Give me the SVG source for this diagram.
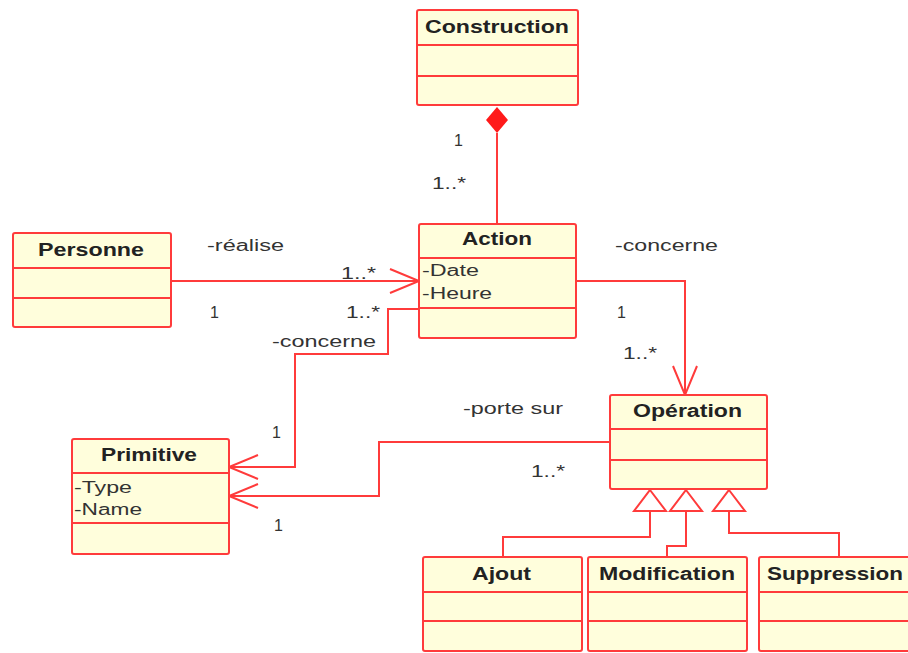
<svg xmlns="http://www.w3.org/2000/svg" width="908" height="653" viewBox="0 0 908 653">
<style>
.box{fill:#FFFEDC;stroke:#FF3B3B;stroke-width:2}
.sep{stroke:#FF3B3B;stroke-width:2}
.ttl{font-family:"Liberation Sans",Arial,sans-serif;font-weight:bold;font-size:18px;fill:#222}
.att{font-family:"Liberation Sans",Arial,sans-serif;font-size:16px;fill:#333}
.lbl{font-family:"Liberation Sans",Arial,sans-serif;font-size:16px;fill:#333}
.ln{fill:none;stroke:#FF3B3B;stroke-width:2}
.tri{fill:#fff;stroke:#FF3B3B;stroke-width:2}
</style>
<defs>
<marker id="open" markerUnits="userSpaceOnUse" markerWidth="34" markerHeight="30" viewBox="-31 -15 34 30" refX="0" refY="0" orient="auto">
<path d="M-29,-12 L0,0 L-29,12" fill="none" stroke="#FF3B3B" stroke-width="2"/>
</marker>
</defs>
<rect width="908" height="653" fill="#fff"/>

<g id="connectors">
<polygon points="497,107 508,120 497,133 486,120" fill="#FF1A1A"/>
<line class="ln" x1="497" y1="133" x2="497" y2="224"/>
<line class="ln" x1="171" y1="281" x2="419" y2="281" marker-end="url(#open)"/>
<polyline class="ln" points="576,281 685,281 685,395" marker-end="url(#open)"/>
<polyline class="ln" points="419,309 388,309 388,354 295,354 295,467 229,467" marker-end="url(#open)"/>
<polyline class="ln" points="610,442 379,442 379,496 229,496" marker-end="url(#open)"/>
<polygon class="tri" points="650,490 666,511 634,511"/>
<polygon class="tri" points="686,490 702,511 670,511"/>
<polygon class="tri" points="729,490 745,511 713,511"/>
<polyline class="ln" points="650,511 650,537 503,537 503,557"/>
<polyline class="ln" points="686,511 686,546 667,546 667,557"/>
<polyline class="ln" points="729,511 729,533 839,533 839,557"/>
<text class="lbl" x="454" y="146">1</text>
<text class="lbl" x="432" y="189" textLength="34" lengthAdjust="spacingAndGlyphs">1..*</text>
<text class="lbl" x="207" y="251" textLength="77" lengthAdjust="spacingAndGlyphs">-réalise</text>
<text class="lbl" x="341" y="279" textLength="35" lengthAdjust="spacingAndGlyphs">1..*</text>
<text class="lbl" x="210" y="318">1</text>
<text class="lbl" x="346" y="318" textLength="34" lengthAdjust="spacingAndGlyphs">1..*</text>
<text class="lbl" x="272" y="347" textLength="104" lengthAdjust="spacingAndGlyphs">-concerne</text>
<text class="lbl" x="272" y="438">1</text>
<text class="lbl" x="615" y="251" textLength="103" lengthAdjust="spacingAndGlyphs">-concerne</text>
<text class="lbl" x="617" y="318">1</text>
<text class="lbl" x="623" y="359" textLength="34" lengthAdjust="spacingAndGlyphs">1..*</text>
<text class="lbl" x="463" y="414" textLength="100" lengthAdjust="spacingAndGlyphs">-porte sur</text>
<text class="lbl" x="531" y="477" textLength="34" lengthAdjust="spacingAndGlyphs">1..*</text>
<text class="lbl" x="274" y="531">1</text>
</g>

<g id="construction">
<rect class="box" x="417" y="10" width="161" height="95" rx="2"/>
<line class="sep" x1="417" y1="45" x2="578" y2="45"/>
<line class="sep" x1="417" y1="76" x2="578" y2="76"/>
<text class="ttl" x="425" y="33" textLength="144" lengthAdjust="spacingAndGlyphs">Construction</text>
</g>

<g id="action">
<rect class="box" x="419" y="224" width="157" height="114" rx="2"/>
<line class="sep" x1="419" y1="258" x2="576" y2="258"/>
<line class="sep" x1="419" y1="308" x2="576" y2="308"/>
<text class="ttl" x="462" y="245" textLength="70" lengthAdjust="spacingAndGlyphs">Action</text>
<text class="att" x="422" y="276" textLength="57" lengthAdjust="spacingAndGlyphs">-Date</text>
<text class="att" x="422" y="299" textLength="70" lengthAdjust="spacingAndGlyphs">-Heure</text>
</g>

<g id="personne">
<rect class="box" x="13" y="233" width="158" height="94" rx="2"/>
<line class="sep" x1="13" y1="268" x2="171" y2="268"/>
<line class="sep" x1="13" y1="298" x2="171" y2="298"/>
<text class="ttl" x="38" y="256" textLength="106" lengthAdjust="spacingAndGlyphs">Personne</text>
</g>

<g id="primitive">
<rect class="box" x="72" y="439" width="157" height="115" rx="2"/>
<line class="sep" x1="72" y1="473" x2="229" y2="473"/>
<line class="sep" x1="72" y1="523" x2="229" y2="523"/>
<text class="ttl" x="101" y="461" textLength="96" lengthAdjust="spacingAndGlyphs">Primitive</text>
<text class="att" x="74" y="493" textLength="58" lengthAdjust="spacingAndGlyphs">-Type</text>
<text class="att" x="74" y="515" textLength="68" lengthAdjust="spacingAndGlyphs">-Name</text>
</g>

<g id="operation">
<rect class="box" x="610" y="395" width="157" height="94" rx="2"/>
<line class="sep" x1="610" y1="429" x2="767" y2="429"/>
<line class="sep" x1="610" y1="460" x2="767" y2="460"/>
<text class="ttl" x="633" y="417" textLength="109" lengthAdjust="spacingAndGlyphs">Opération</text>
</g>

<g id="ajout">
<rect class="box" x="423" y="557" width="159" height="94" rx="2"/>
<line class="sep" x1="423" y1="592" x2="582" y2="592"/>
<line class="sep" x1="423" y1="621" x2="582" y2="621"/>
<text class="ttl" x="472" y="580" textLength="59" lengthAdjust="spacingAndGlyphs">Ajout</text>
</g>

<g id="modification">
<rect class="box" x="588" y="557" width="159" height="94" rx="2"/>
<line class="sep" x1="588" y1="592" x2="747" y2="592"/>
<line class="sep" x1="588" y1="621" x2="747" y2="621"/>
<text class="ttl" x="599" y="580" textLength="136" lengthAdjust="spacingAndGlyphs">Modification</text>
</g>

<g id="suppression">
<rect class="box" x="759" y="557" width="160" height="94" rx="2"/>
<line class="sep" x1="759" y1="592" x2="919" y2="592"/>
<line class="sep" x1="759" y1="621" x2="919" y2="621"/>
<text class="ttl" x="767" y="580" textLength="136" lengthAdjust="spacingAndGlyphs">Suppression</text>
</g>
</svg>
